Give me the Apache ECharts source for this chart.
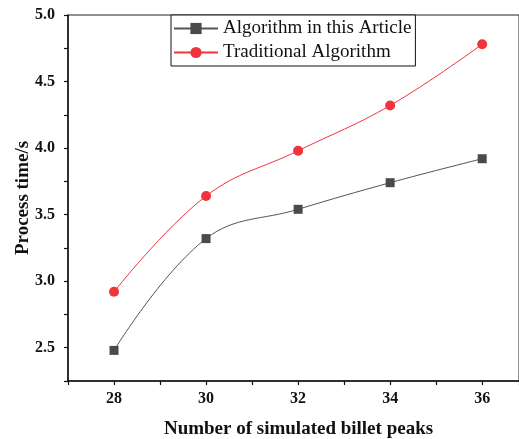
<!DOCTYPE html>
<html>
<head>
<meta charset="utf-8">
<script src="https://cdn.jsdelivr.net/npm/echarts@6/dist/echarts.min.js"></script>
<style>html,body{margin:0;padding:0;background:#fff}#c{width:519px;height:439px}</style>
</head>
<body>
<div id="c"></div>
<script>
var xValues = [28, 30, 32, 34, 36];
var articleValues = [2.48, 3.32, 3.54, 3.74, 3.92];
var traditionalValues = [2.92, 3.64, 3.98, 4.32, 4.78];
var seriesNames = ['Algorithm in this Article', 'Traditional Algorithm'];
var xTitle = 'Number of simulated billet peaks';
var yTitle = 'Process time/s';

function pairs(xs, ys) { return xs.map(function (x, i) { return [x, ys[i]]; }); }
var serif = '"Liberation Serif", "Times New Roman", serif';
var chart = echarts.init(document.getElementById('c'), null, {renderer: 'canvas'});
chart.setOption({
  animation: false,
  backgroundColor: '#fff',
  grid: {left: 68, top: 15, right: 0, bottom: 58, outerBoundsMode: 'none', containLabel: false,
    show: true, borderColor: '#222', borderWidth: 1},
  legend: {
    orient: 'vertical', left: 171, top: 15,
    padding: [4, 4, 4, 2], itemGap: 5, itemWidth: 44, itemHeight: 14,
    borderColor: '#111', borderWidth: 1, backgroundColor: '#fff',
    textStyle: {fontFamily: serif, fontSize: 19, color: '#111', lineHeight: 18},
    data: seriesNames
  },
  xAxis: {
    type: 'value', min: 27, max: 36.8, interval: 1,
    name: xTitle, nameLocation: 'middle', nameGap: 39,
    nameTextStyle: {fontFamily: serif, fontSize: 19, fontWeight: 'bold', color: '#111', padding: [0, 0, 0, 10]},
    axisLine: {lineStyle: {color: '#111', width: 1.5}},
    axisTick: {length: 4, lineStyle: {color: '#111', width: 1.2}},
    axisLabel: {fontFamily: serif, fontSize: 16, fontWeight: 'bold', color: '#111', margin: 10,
      formatter: function (v) { return (v % 2 === 0) ? String(v) : ''; }},
    splitLine: {show: false}
  },
  yAxis: {
    type: 'value', min: 2.25, max: 5.0, interval: 0.25,
    name: yTitle, nameLocation: 'middle', nameGap: 35, nameRotate: 90, nameMoveOverlap: false,
    nameTextStyle: {fontFamily: serif, fontSize: 19, fontWeight: 'bold', color: '#111'},
    axisLine: {lineStyle: {color: '#111', width: 1.5}},
    axisTick: {length: 4, lineStyle: {color: '#111', width: 1.2}},
    axisLabel: {fontFamily: serif, fontSize: 16, fontWeight: 'bold', color: '#111', margin: 13,
      formatter: function (v) { return (Math.abs(v * 2 - Math.round(v * 2)) < 1e-6) ? v.toFixed(1) : ''; }},
    splitLine: {show: false}
  },
  series: [
    {name: seriesNames[0], type: 'line', smooth: 0.4, data: pairs(xValues, articleValues),
      symbol: 'rect', symbolSize: 9, color: '#4a4a4a',
      lineStyle: {color: '#555', width: 1}, itemStyle: {color: '#4a4a4a'}},
    {name: seriesNames[1], type: 'line', smooth: 0.4, data: pairs(xValues, traditionalValues),
      symbol: 'circle', symbolSize: 10, color: '#f0343c',
      lineStyle: {color: '#f0343c', width: 1}, itemStyle: {color: '#f0343c'}}
  ]
});
</script>
</body>
</html>
